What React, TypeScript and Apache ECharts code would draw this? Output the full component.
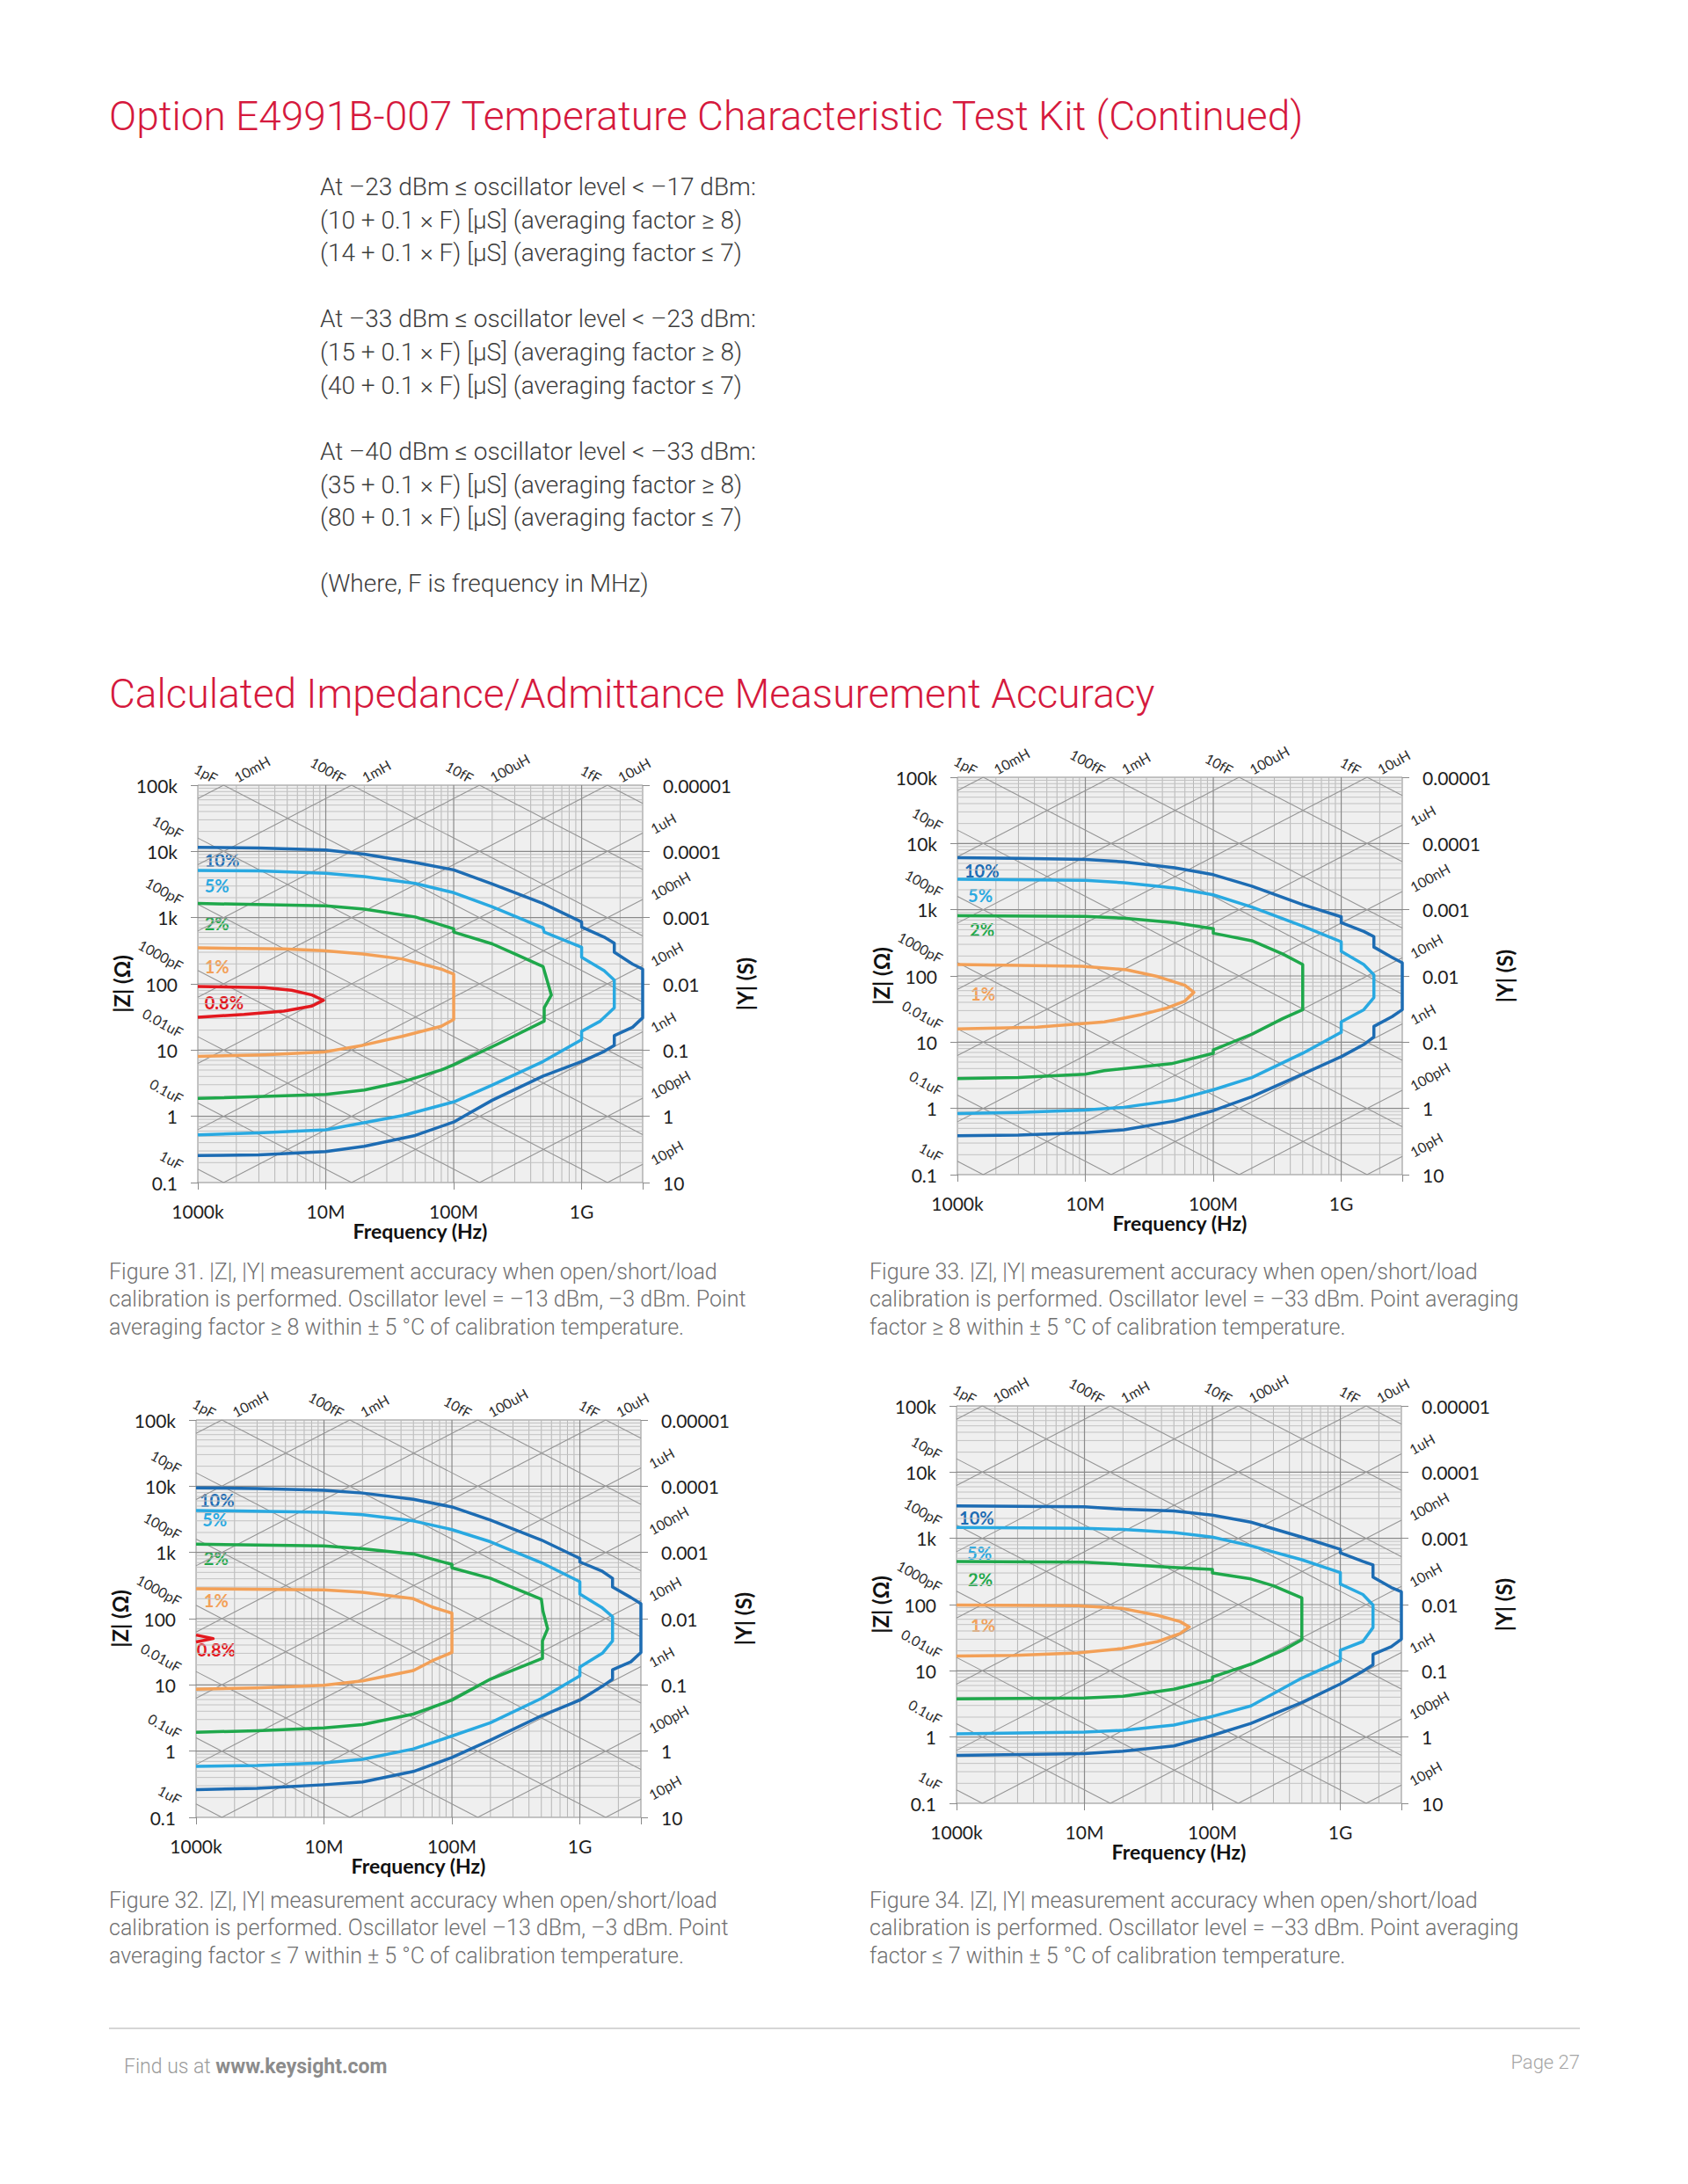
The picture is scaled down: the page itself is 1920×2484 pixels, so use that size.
import React, { useEffect, useRef } from "react";
import * as echarts from "echarts";

// ---------------- axis ranges & tick labels ----------------
const F_MIN = 1e6;
const F_MAX = 3e9;
const Z_MIN = 0.1;
const Z_MAX = 1e5;

const freqTickLabels: Record<number, string> = { 6: "1000k", 7: "10M", 8: "100M", 9: "1G" };
const zTickLabels: Record<number, string> = { [-1]: "0.1", 0: "1", 1: "10", 2: "100", 3: "1k", 4: "10k", 5: "100k" };
const yTickLabels: Record<number, string> = { [-5]: "0.00001", [-4]: "0.0001", [-3]: "0.001", [-2]: "0.01", [-1]: "0.1", 0: "1", 1: "10" };

// constant-capacitance / constant-inductance reference lines
const capValues = [1e-15, 1e-14, 1e-13, 1e-12, 1e-11, 1e-10, 1e-9, 1e-8, 1e-7, 1e-6];
const capNames = ["1fF", "10fF", "100fF", "1pF", "10pF", "100pF", "1000pF", "0.01uF", "0.1uF", "1uF"];
const indValues = [1e-11, 1e-10, 1e-9, 1e-8, 1e-7, 1e-6, 1e-5, 1e-4, 1e-3, 1e-2];
const indNames = ["10pH", "100pH", "1nH", "10nH", "100nH", "1uH", "10uH", "100uH", "1mH", "10mH"];

const accuracyNames = ["10%", "5%", "2%", "1%", "0.8%"];

// ---------------- Figure 31 ----------------
const f31_10 = [[1e6, 11500], [3e6, 11250], [1e7, 10470], [2e7, 9100], [5e7, 6790], [1e8, 5260], [2e8, 3220], [5e8, 1635], [1e9, 859], [1e9, 721], [1.5e9, 508], [1.8e9, 411], [1.8e9, 300], [2.5e9, 199], [3e9, 167], [3e9, 30.7], [2.5e9, 22.1], [1.8e9, 16.5], [1.8e9, 11.8], [1.5e9, 9.55], [1e9, 6.72], [5e8, 4.06], [2e8, 1.75], [1e8, 0.82], [5e7, 0.514], [2e7, 0.353], [1e7, 0.293], [3e6, 0.261], [1e6, 0.255]];
const f31_5 = [[1e6, 5140], [3e6, 5080], [1e7, 4680], [2e7, 4160], [5e7, 3290], [1e8, 2380], [2e8, 1452], [5e8, 697], [5.1e8, 605], [1e9, 357], [1e9, 252], [1.5e9, 158], [1.8e9, 114], [1.8e9, 43.6], [1.4e9, 27.4], [1e9, 19.2], [1e9, 14.4], [5e8, 6.72], [2e8, 2.96], [1e8, 1.65], [4e7, 1.03], [1e7, 0.627], [3e6, 0.564], [1e6, 0.526]];
const f31_2 = [[1e6, 1635], [1e7, 1506], [2e7, 1340], [5e7, 1024], [1e8, 679], [1e8, 605], [2e8, 402], [3e8, 283], [5e8, 182], [5.2e8, 140], [5.8e8, 67.9], [5.1e8, 43.6], [5.1e8, 27.4], [2.3e8, 12.8], [1e8, 5.98], [8e7, 5.02], [4e7, 3.33], [2e7, 2.49], [1e7, 2.14], [1e6, 1.86]];
const f31_1 = [[1e6, 349], [4.7e6, 337], [9.6e6, 318], [1.94e7, 283], [3.94e7, 238], [8e7, 167], [1e8, 140], [1e8, 29], [8e7, 22.9], [3.94e7, 16.1], [1.94e7, 11.8], [9.6e6, 9.33], [3.3e6, 8.5], [1e6, 8.02]];
const f31_08 = [[1e6, 91], [3.3e6, 88], [5.4e6, 80], [7.8e6, 68], [9.6e6, 56.4], [7.8e6, 46.2], [4.7e6, 38.8], [2.3e6, 34.5], [1e6, 31.4]];

// ---------------- Figure 32 ----------------
const f32_10 = [[1e6, 9440], [3e6, 9220], [1e7, 8680], [2e7, 7880], [5e7, 6340], [1e8, 4860], [2e8, 3070], [5e8, 1540], [1e9, 811], [1e9, 718], [1.5e9, 518], [1.8e9, 406], [1.8e9, 300], [2.5e9, 209], [3e9, 168], [3e9, 30.9], [2.5e9, 22.3], [1.8e9, 16.9], [1.8e9, 12.2], [1.5e9, 9.55], [1e9, 5.89], [5e8, 3.41], [2e8, 1.47], [1e8, 0.8], [5e7, 0.493], [2e7, 0.343], [1e7, 0.311], [3e6, 0.275], [1e6, 0.262]];
const f32_5 = [[1e6, 4300], [1e7, 4050], [2e7, 3720], [5e7, 2990], [1e8, 2210], [2e8, 1450], [5e8, 701], [1e9, 361], [1e9, 236], [1.5e9, 145], [1.8e9, 107], [1.8e9, 46], [1.5e9, 30.1], [1e9, 18.6], [1e9, 13.7], [5e8, 6.25], [2e8, 2.68], [1e8, 1.69], [5e7, 1.08], [2e7, 0.752], [1e7, 0.667], [3e6, 0.605], [1e6, 0.59]];
const f32_2 = [[1e6, 1330], [1e7, 1253], [2e7, 1137], [5e7, 948], [1e8, 659], [1e8, 584], [2e8, 406], [5e8, 197], [5.15e8, 129], [5.6e8, 70.3], [5.1e8, 46], [5.1e8, 25.1], [2e8, 12.2], [1e8, 5.89], [5e7, 3.63], [2e7, 2.52], [1e7, 2.24], [3e6, 2.03], [1e6, 1.93]];
const f32_1 = [[1e6, 282], [1e7, 273], [2e7, 251], [5e7, 200], [7e7, 150], [1e8, 121], [1e8, 30.9], [7e7, 23.1], [5e7, 16.5], [2e7, 11.5], [1e7, 9.9], [3e6, 9.0], [1e6, 8.6]];
const f32_08 = [[1e6, 56.6], [1.36e6, 50.1], [1e6, 44.4]];

// ---------------- Figure 33 ----------------
const f33_10 = [[1e6, 6110], [3e6, 5970], [1e7, 5750], [2e7, 5290], [5e7, 4300], [1e8, 3380], [2e8, 2270], [5e8, 1193], [1e9, 782], [1e9, 636], [1.5e9, 470], [1.8e9, 392], [1.8e9, 273], [2.5e9, 190], [3e9, 158], [3e9, 30.9], [2.5e9, 24.3], [1.8e9, 17.3], [1.8e9, 12], [1.5e9, 9.2], [1e9, 6.03], [5e8, 3.29], [2e8, 1.5], [1e8, 0.925], [5e7, 0.643], [2e7, 0.475], [1e7, 0.431], [3e6, 0.396], [1e6, 0.387]];
const f33_5 = [[1e6, 2880], [1e7, 2780], [2e7, 2560], [5e7, 2130], [1e8, 1675], [2e8, 1096], [5e8, 564], [1e9, 327], [1e9, 236], [1.5e9, 149], [1.8e9, 104], [1.8e9, 47.2], [1.5e9, 30.9], [1e9, 20.2], [1e9, 14.1], [5e8, 6.8], [2e8, 2.92], [1e8, 1.91], [5e7, 1.33], [2e7, 1.04], [1e7, 0.946], [3e6, 0.869], [1e6, 0.839]];
const f33_2 = [[1e6, 811], [1e7, 791], [2e7, 745], [5e7, 636], [1e8, 518], [1e8, 442], [2e8, 340], [3.5e8, 214], [5e8, 149], [5e8, 30.9], [3.5e8, 22.8], [2e8, 13.2], [1e8, 7.67], [1e8, 6.8], [4.7e7, 4.73], [1.4e7, 3.72], [1e7, 3.29], [3e6, 2.92], [1e6, 2.81]];
const f33_1 = [[1e6, 149], [9.4e6, 140], [2.1e7, 124], [3.7e7, 97.5], [6e7, 72.1], [7.05e7, 56.6], [6e7, 41.8], [4.35e7, 32.8], [2.68e7, 25.8], [1.41e7, 20.2], [4.2e6, 16.9], [1e6, 15.9]];

// ---------------- Figure 34 ----------------
const f34_10 = [[1e6, 3100], [1e7, 2990], [2e7, 2750], [5e7, 2590], [1e8, 2240], [2e8, 1758], [5e8, 1045], [1e9, 684], [1e9, 606], [1.5e9, 448], [1.8e9, 397], [1.8e9, 260], [2.5e9, 181], [3e9, 156], [3e9, 30.1], [2.5e9, 23.1], [1.8e9, 17.7], [1.8e9, 12.3], [1.5e9, 9.9], [1e9, 6.33], [5e8, 3.33], [2e8, 1.61], [1e8, 1.06], [5e7, 0.735], [2e7, 0.612], [1e7, 0.562], [1e6, 0.53]];
const f34_5 = [[1e6, 1466], [1e7, 1413], [2e7, 1363], [5e7, 1222], [1e8, 1045], [2e8, 773], [5e8, 475], [1e9, 304], [1e9, 204], [1.5e9, 142], [1.8e9, 98.6], [1.8e9, 45], [1.5e9, 27.7], [1e9, 20.5], [1e9, 14.2], [5e8, 7.78], [2e8, 2.95], [1e8, 2.05], [5e7, 1.52], [2e7, 1.26], [1e7, 1.19], [1e6, 1.12]];
const f34_2 = [[1e6, 448], [1e7, 437], [2e7, 406], [5e7, 365], [1e8, 339], [1e8, 300], [2e8, 244], [3e8, 192], [5e8, 126], [5e8, 29.4], [3.57e8, 20.5], [2e8, 12.6], [1e8, 8.05], [1e8, 7.31], [5e7, 5.27], [2e7, 4.14], [1e7, 3.9], [1e6, 3.76]];
const f34_1 = [[1e6, 98.6], [8.8e6, 96.3], [1.97e7, 87.5], [3.74e7, 68.7], [5.6e7, 55.3], [6.6e7, 46], [5.6e7, 36.6], [3.74e7, 27.7], [1.97e7, 21.7], [8.8e6, 18.6], [2.85e6, 17.1], [1e6, 16.7]];

// ---------------- page texts ----------------
const title1 = "Option E4991B-007 Temperature Characteristic Test Kit (Continued)";
const title2 = "Calculated Impedance/Admittance Measurement Accuracy";
const bodyLines = [
  "At \u201323 dBm \u2264 oscillator level < \u201317 dBm:",
  "(10 + 0.1 \u00d7 F) [\u00b5S] (averaging factor \u2265 8)",
  "(14 + 0.1 \u00d7 F) [\u00b5S] (averaging factor \u2264 7)",
  "At \u201333 dBm \u2264 oscillator level < \u201323 dBm:",
  "(15 + 0.1 \u00d7 F) [\u00b5S] (averaging factor \u2265 8)",
  "(40 + 0.1 \u00d7 F) [\u00b5S] (averaging factor \u2264 7)",
  "At \u201340 dBm \u2264 oscillator level < \u201333 dBm:",
  "(35 + 0.1 \u00d7 F) [\u00b5S] (averaging factor \u2265 8)",
  "(80 + 0.1 \u00d7 F) [\u00b5S] (averaging factor \u2264 7)",
  "(Where, F is frequency in MHz)",
];
const caption31 = [
  "Figure 31. |Z|, |Y| measurement accuracy when open/short/load",
  "calibration is performed. Oscillator level = \u201313 dBm, \u20133 dBm. Point",
  "averaging factor \u2265 8 within \u00b1 5 \u00b0C of calibration temperature.",
];
const caption32 = [
  "Figure 32. |Z|, |Y| measurement accuracy when open/short/load",
  "calibration is performed. Oscillator level \u201313 dBm, \u20133 dBm. Point",
  "averaging factor \u2264 7 within \u00b1 5 \u00b0C of calibration temperature.",
];
const caption33 = [
  "Figure 33. |Z|, |Y| measurement accuracy when open/short/load",
  "calibration is performed. Oscillator level = \u201333 dBm. Point averaging",
  "factor \u2265 8 within \u00b1 5 \u00b0C of calibration temperature.",
];
const caption34 = [
  "Figure 34. |Z|, |Y| measurement accuracy when open/short/load",
  "calibration is performed. Oscillator level = \u201333 dBm. Point averaging",
  "factor \u2264 7 within \u00b1 5 \u00b0C of calibration temperature.",
];

// ---------------- figure set-up (layout kept apart from data) ----------------
const FIGS = [
  { curves: [f31_10, f31_5, f31_2, f31_1, f31_08], caption: caption31 },
  { curves: [f32_10, f32_5, f32_2, f32_1, f32_08], caption: caption32 },
  { curves: [f33_10, f33_5, f33_2, f33_1], caption: caption33 },
  { curves: [f34_10, f34_5, f34_2, f34_1], caption: caption34 },
];

const LAYOUT = [
  { grid: { left: 225, top: 893, width: 506, height: 452 }, capX: 124, capY: 1446,
    tags: [[1.13e6, 7330], [1.13e6, 3070], [1.13e6, 824], [1.13e6, 184], [1.13e6, 52.6]] },
  { grid: { left: 223, top: 1615, width: 506, height: 452 }, capX: 124, capY: 2161,
    tags: [[1.065e6, 6200], [1.12e6, 3160], [1.15e6, 824], [1.15e6, 190], [1.01e6, 34.3]] },
  { grid: { left: 1089, top: 884, width: 506, height: 452 }, capX: 989, capY: 1446,
    tags: [[1.135e6, 3920], [1.21e6, 1664], [1.25e6, 498], [1.27e6, 54.2]] },
  { grid: { left: 1088, top: 1599, width: 506, height: 452 }, capX: 989, capY: 2161,
    tags: [[1.05e6, 2060], [1.21e6, 614], [1.23e6, 243], [1.29e6, 50.2]] },
];

const CURVE_COLORS = ["#1d6cb3", "#29a9e1", "#1fa84b", "#f3a057", "#e3191f"];
const AXIS_FONT = 'Lato, "Open Sans", sans-serif';
const TEXT_FONT = 'Roboto, "Noto Sans", sans-serif';
const ROT = (29 * Math.PI) / 180;

// grid-line positions (2..9 of each decade, decades)
const minorF: number[] = [];
for (let k = 6; k <= 9; k++) for (let m = 2; m <= 9; m++) { const f = m * Math.pow(10, k); if (f < F_MAX) minorF.push(f); }
const minorZ: number[] = [];
for (let k = -1; k <= 4; k++) for (let m = 2; m <= 9; m++) minorZ.push(m * Math.pow(10, k));
const majorF = [1e7, 1e8, 1e9];
const majorZ = [1, 10, 100, 1e3, 1e4];

function joinSegments(segments: number[][][]): number[][] {
  const out: number[][] = [];
  segments.forEach((s) => { out.push(...s, [NaN, NaN]); });
  return out;
}

function capSegment(c: number): number[][] | null {
  const z = (f: number) => 1 / (2 * Math.PI * f * c);
  const f1 = Math.max(F_MIN, 1 / (2 * Math.PI * c * Z_MAX));
  const f2 = Math.min(F_MAX, 1 / (2 * Math.PI * c * Z_MIN));
  if (f1 >= f2) return null;
  return [[f1, z(f1)], [f2, z(f2)]];
}
function indSegment(l: number): number[][] | null {
  const z = (f: number) => 2 * Math.PI * f * l;
  const f1 = Math.max(F_MIN, Z_MIN / (2 * Math.PI * l));
  const f2 = Math.min(F_MAX, Z_MAX / (2 * Math.PI * l));
  if (f1 >= f2) return null;
  return [[f1, z(f1)], [f2, z(f2)]];
}

const logKey = (v: number) => Math.round(Math.log10(v));

function buildOption() {
  const grid: any[] = [];
  const xAxis: any[] = [];
  const yAxis: any[] = [];
  const series: any[] = [];
  const firstSeries: number[] = [];
  const tickStyle = { show: true, length: 8, lineStyle: { color: "#8a8a8a", width: 1 } };
  const labelStyle = { color: "#1e1e1e", fontSize: 21, fontFamily: AXIS_FONT };
  const nameStyle = { color: "#111", fontSize: 24, fontWeight: "bold", fontFamily: AXIS_FONT };

  FIGS.forEach((fig, i) => {
    const L = LAYOUT[i];
    grid.push({ ...L.grid, show: true, backgroundColor: "#efefef", borderColor: "#8e8e8e", borderWidth: 1, containLabel: false, outerBoundsMode: "none" });
    xAxis.push({
      gridIndex: i, type: "log", logBase: 10, min: F_MIN, max: F_MAX,
      axisLine: { show: false }, axisTick: tickStyle, splitLine: { show: false },
      axisLabel: { ...labelStyle, margin: 22, formatter: (v: number) => freqTickLabels[logKey(v)] && Math.abs(Math.log10(v) - logKey(v)) < 1e-6 ? freqTickLabels[logKey(v)] : "" },
      name: "Frequency (Hz)", nameLocation: "middle", nameGap: 40, nameTextStyle: { ...nameStyle, fontSize: 23 },
    });
    yAxis.push({
      gridIndex: i, type: "log", logBase: 10, min: Z_MIN, max: Z_MAX, position: "left",
      axisLine: { show: false }, axisTick: tickStyle, splitLine: { show: false },
      axisLabel: { ...labelStyle, margin: 23, formatter: (v: number) => zTickLabels[logKey(v)] ?? "" },
      name: "|Z| (\u03a9)", nameLocation: "middle", nameGap: 75, nameTextStyle: nameStyle,
    });
    yAxis.push({
      gridIndex: i, type: "log", logBase: 10, min: 1e-5, max: 10, inverse: true, position: "right",
      axisLine: { show: false }, axisTick: tickStyle, splitLine: { show: false },
      axisLabel: { ...labelStyle, margin: 23, formatter: (v: number) => yTickLabels[logKey(v)] ?? "" },
      name: "|Y| (S)", nameLocation: "middle", nameGap: 72, nameTextStyle: nameStyle,
    });

    const base = {
      type: "line", xAxisIndex: i, yAxisIndex: 2 * i, symbol: "none", showSymbol: false,
      silent: true, animation: false, clip: true, connectNulls: false, emphasis: { disabled: true },
    };
    firstSeries.push(series.length);
    series.push({ ...base, name: `minorF${i}`, data: joinSegments(minorF.map((f) => [[f, Z_MIN], [f, Z_MAX]])), lineStyle: { color: "#b6b6b6", width: 1 } });
    series.push({ ...base, name: `minorZ${i}`, data: joinSegments(minorZ.map((z) => [[F_MIN, z], [F_MAX, z]])), lineStyle: { color: "#c2c2c2", width: 1 } });
    series.push({ ...base, name: `major${i}`, data: joinSegments([...majorF.map((f) => [[f, Z_MIN], [f, Z_MAX]]), ...majorZ.map((z) => [[F_MIN, z], [F_MAX, z]])]), lineStyle: { color: "#8a8a8a", width: 1.2 } });
    const diag: number[][][] = [];
    capValues.forEach((c) => { const s = capSegment(c); if (s) diag.push(s); });
    indValues.forEach((l) => { const s = indSegment(l); if (s) diag.push(s); });
    series.push({ ...base, name: `diag${i}`, data: joinSegments(diag), lineStyle: { color: "#959595", width: 1.1 } });
    fig.curves.forEach((c, k) => {
      series.push({ ...base, name: `${accuracyNames[k]}-${i}`, data: c, lineStyle: { color: CURVE_COLORS[k], width: 3.5, join: "round" } });
    });
  });

  return {
    option: { animation: false, backgroundColor: "#ffffff", textStyle: { fontFamily: AXIS_FONT }, grid, xAxis, yAxis, series },
    firstSeries,
  };
}

function txt(text: string, x: number, y: number, style: any, rotation = 0) {
  return {
    type: "text", x, y, rotation, silent: true,
    style: { text, textAlign: style.align, align: style.align, textVerticalAlign: "middle", verticalAlign: "middle", ...style },
  };
}

function buildGraphics(chart: any, firstSeries: number[]) {
  const g: any[] = [];
  const titleStyle = { fontFamily: TEXT_FONT, fontSize: 46, fontWeight: 300, fill: "#d5193d", align: "left" };
  g.push(txt(title1, 124, 132, titleStyle));
  g.push(txt(title2, 124, 789, titleStyle));
  const bodyY = [212, 250, 287, 362, 400, 438, 513, 551, 588, 663];
  bodyLines.forEach((t, k) => g.push(txt(t, 364, bodyY[k], { fontFamily: TEXT_FONT, fontSize: 28, fontWeight: 300, fill: "#3c3c3c", align: "left" })));

  FIGS.forEach((fig, i) => {
    const L = LAYOUT[i];
    fig.caption.forEach((t, k) => g.push(txt(t, L.capX, L.capY + k * 31.6, { fontFamily: TEXT_FONT, fontSize: 25, fontWeight: 300, fill: "#707070", align: "left" })));
    const px = (f: number, z: number) => chart.convertToPixel({ seriesIndex: firstSeries[i] }, [f, z]);
    const annStyle = (align: string) => ({ fontFamily: AXIS_FONT, fontSize: 16, fill: "#2e2e2e", align });
    capValues.forEach((c, k) => {
      const fTop = 1 / (2 * Math.PI * c * Z_MAX);
      if (fTop > F_MIN && fTop < F_MAX) { const p = px(fTop, Z_MAX); g.push(txt(capNames[k], p[0] - 8, p[1] - 7, annStyle("right"), -ROT)); }
      const zLeft = 1 / (2 * Math.PI * F_MIN * c);
      if (zLeft > Z_MIN && zLeft < Z_MAX) { const p = px(F_MIN, zLeft); g.push(txt(capNames[k], p[0] - 18, p[1] - 4, annStyle("right"), -ROT)); }
    });
    indValues.forEach((l, k) => {
      const fTop = Z_MAX / (2 * Math.PI * l);
      if (fTop > F_MIN && fTop < F_MAX) { const p = px(fTop, Z_MAX); g.push(txt(indNames[k], p[0] + 13, p[1] - 8, annStyle("left"), ROT)); }
      const zRight = 2 * Math.PI * F_MAX * l;
      if (zRight > Z_MIN && zRight < Z_MAX) { const p = px(F_MAX, zRight); g.push(txt(indNames[k], p[0] + 10, p[1] - 4, annStyle("left"), ROT)); }
    });
    L.tags.forEach((t, k) => {
      const p = px(t[0], t[1]);
      g.push(txt(accuracyNames[k], p[0], p[1], { fontFamily: AXIS_FONT, fontSize: 20, fontWeight: "bold", fill: CURVE_COLORS[k], align: "left" }));
    });
  });

  g.push({ type: "line", silent: true, shape: { x1: 124, y1: 2307, x2: 1797, y2: 2307 }, style: { stroke: "#d6d6d6", lineWidth: 2 } });
  g.push({
    type: "text", x: 141, y: 2350, silent: true,
    style: {
      text: "{a|Find us at }{b|www.keysight.com}", textVerticalAlign: "middle", verticalAlign: "middle", align: "left", textAlign: "left",
      rich: {
        a: { fontFamily: TEXT_FONT, fontSize: 23, fontWeight: 300, fill: "#9b9b9b" },
        b: { fontFamily: TEXT_FONT, fontSize: 23, fontWeight: "bold", fill: "#8c8c8c" },
      },
    },
  });
  g.push(txt("Page 27", 1797, 2345, { fontFamily: TEXT_FONT, fontSize: 22, fontWeight: 300, fill: "#a6a6a6", align: "right" }));
  return g;
}

export default function App() {
  const ref = useRef<HTMLDivElement>(null);
  useEffect(() => {
    document.body.style.margin = "0";
    const chart = echarts.init(ref.current!, null, { renderer: "svg" });
    const { option, firstSeries } = buildOption();
    chart.setOption(option as any);
    chart.setOption({ graphic: buildGraphics(chart, firstSeries) } as any);
    return () => chart.dispose();
  }, []);
  return <div ref={ref} style={{ width: 1920, height: 2484, background: "#fff" }} />;
}
